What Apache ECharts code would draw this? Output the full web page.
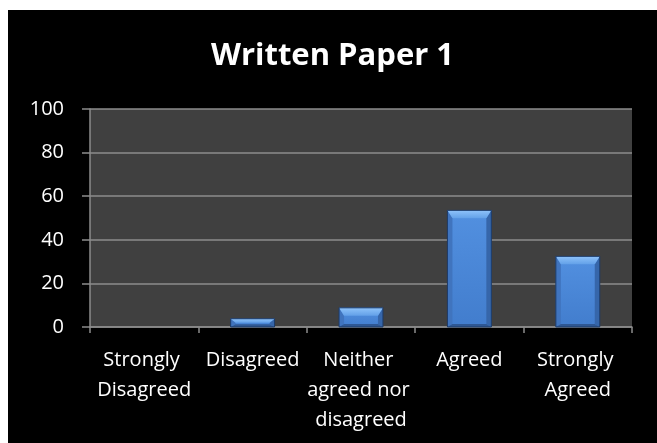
<!DOCTYPE html>
<html>
<head>
<meta charset="utf-8">
<script src="https://cdn.jsdelivr.net/npm/echarts@6/dist/echarts.min.js"></script>
<style>
html,body{margin:0;padding:0;background:#fff;width:657px;height:443px;overflow:hidden;}
#c{position:absolute;left:8px;top:10px;width:649px;height:433px;background:#000;}
</style>
</head>
<body>
<div id="c"></div>
<script>
const chartTitle = 'Written Paper 1';
const categories = ['Strongly Disagreed', 'Disagreed', 'Neither agreed nor disagreed', 'Agreed', 'Strongly Agreed'];
const values = [0, 3.8, 8.8, 53.5, 32.4];
const yTicks = [0, 20, 40, 60, 80, 100];

const FONT = '"Open Sans", "DejaVu Sans", sans-serif';
const chart = echarts.init(document.getElementById('c'), null, {renderer: 'canvas'});

function renderBar(params, api) {
  const idx = api.value(0);
  const val = api.value(1);
  if (!val) return null;
  const top = api.coord([idx, val]);
  const base = api.coord([idx, 0]);
  const band = api.size([1, 0])[0];
  const w = band * 0.405;
  const x0 = top[0] - w / 2, x1 = top[0] + w / 2;
  const y0 = top[1], y1 = base[1];
  const h = y1 - y0;
  const bt = Math.min(8, h / 2);
  const bs = Math.min(5, w / 2);
  const bb = Math.min(3, h / 3);
  const children = [
    {type: 'rect', shape: {x: x0, y: y0, width: w, height: h},
     style: {fill: new echarts.graphic.LinearGradient(0, 0, 0, 1, [
       {offset: 0, color: '#5290e0'}, {offset: 1, color: '#427dcd'}])}},
    {type: 'polygon', shape: {points: [[x0, y0], [x0 + bs, y0 + bt], [x0 + bs, y1 - bb], [x0, y1]]},
     style: {fill: '#4074be'}},
    {type: 'polygon', shape: {points: [[x1, y0], [x1 - bs, y0 + bt], [x1 - bs, y1 - bb], [x1, y1]]},
     style: {fill: '#3666aa'}},
    {type: 'polygon', shape: {points: [[x0, y1], [x0 + bs, y1 - bb], [x1 - bs, y1 - bb], [x1, y1]]},
     style: {fill: '#2f5894'}},
    {type: 'polygon', shape: {points: [[x0, y0], [x1, y0], [x1 - bs, y0 + bt], [x0 + bs, y0 + bt]]},
     style: {fill: new echarts.graphic.LinearGradient(0, 0, 0, 1, [
       {offset: 0, color: '#8fc3fa'}, {offset: 1, color: '#62a0e8'}])}},
    {type: 'rect', shape: {x: x0, y: y0, width: w, height: h},
     style: {fill: null, stroke: '#1d3a66', lineWidth: 1}}
  ];
  return {type: 'group', children: children};
}

chart.setOption({
  backgroundColor: '#000',
  animation: false,
  title: {
    text: chartTitle,
    left: 'center',
    top: 26,
    textStyle: {color: '#fff', fontFamily: FONT, fontWeight: 'bold', fontSize: 31}
  },
  grid: {left: 82, right: 25, top: 99, bottom: 116, show: true, backgroundColor: '#404040', borderWidth: 0},
  xAxis: {
    type: 'category',
    data: categories,
    axisLine: {show: true, lineStyle: {color: '#8c8c8c', width: 1.5}},
    axisTick: {show: true, length: 6, alignWithLabel: false, lineStyle: {color: '#8c8c8c', width: 1.5}},
    axisLabel: {
      color: '#fff', fontFamily: FONT, fontSize: 20, lineHeight: 30, margin: 18,
      interval: 0, width: 108, overflow: 'break'
    }
  },
  yAxis: {
    type: 'value',
    min: yTicks[0],
    max: yTicks[yTicks.length - 1],
    interval: yTicks[1] - yTicks[0],
    axisLine: {show: true, lineStyle: {color: '#8c8c8c', width: 1.5}},
    axisTick: {show: true, inside: false, length: 8, lineStyle: {color: '#8c8c8c', width: 1.5}},
    splitLine: {show: true, lineStyle: {color: '#8c8c8c', width: 1.5}},
    axisLabel: {color: '#fff', fontFamily: FONT, fontSize: 20, margin: 26}
  },
  series: [{
    type: 'custom',
    renderItem: renderBar,
    encode: {x: 0, y: 1},
    data: values.map((v, i) => [i, v])
  }]
});
</script>
</body>
</html>
